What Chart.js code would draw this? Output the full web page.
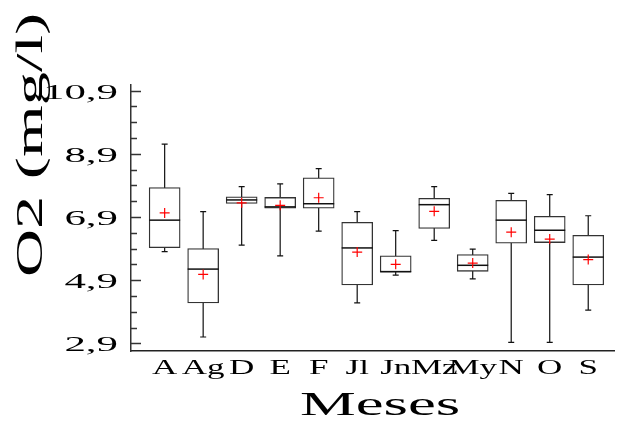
<!DOCTYPE html>
<html>
<head>
<meta charset="utf-8">
<script src="https://cdn.jsdelivr.net/npm/chart.js@4"></script>
<style>
  html, body { margin: 0; padding: 0; background: #fff; }
</style>
</head>
<body>
<canvas id="boxChart" width="621" height="421"></canvas>
<script>
// valores (O2 en mg/l por mes)
const meses   = ['A', 'Ag', 'D', 'E', 'F', 'Jl', 'Jn', 'Mz', 'My', 'N', 'O', 'S'];
const minimo  = [5.80, 3.10, 6.01, 5.67, 6.45, 4.18, 5.06, 6.16, 4.94, 2.93, 2.93, 3.95];
const q1      = [5.93, 4.18, 7.33, 7.18, 7.18, 4.75, 5.15, 6.54, 5.18, 6.07, 6.09, 4.75];
const mediana = [6.80, 5.25, 7.44, 7.22, 7.32, 5.92, 5.17, 7.29, 5.37, 6.80, 6.48, 5.63];
const q3      = [7.83, 5.90, 7.54, 7.52, 8.14, 6.73, 5.67, 7.49, 5.71, 7.43, 6.92, 6.32];
const maximo  = [9.21, 7.07, 7.86, 7.95, 8.43, 7.07, 6.47, 7.86, 5.88, 7.65, 7.61, 6.94];
const media   = [7.03, 5.08, 7.35, 7.27, 7.51, 5.79, 5.40, 7.08, 5.44, 6.42, 6.20, 5.55];
const yMarcas = [2.9, 4.9, 6.9, 8.9, 10.9];

const serif = '"Liberation Serif", "Times New Roman", serif';

// texto ensanchado como en el original
function textoAncho(ctx, txt, x, y, size, sx, align, rot) {
    ctx.save();
    ctx.font = size + 'px ' + serif;
    ctx.fillStyle = '#000';
    ctx.textAlign = align;
    ctx.textBaseline = 'alphabetic';
    ctx.translate(x, y);
    if (rot) ctx.rotate(rot);
    ctx.scale(sx, 1);
    ctx.fillText(txt, 0, 0);
    ctx.restore();
}

const cajas = {
    id: 'cajas',
    beforeDatasetDraw(chart, args) {
        if (args.index !== 1) return;
        const ctx = chart.ctx;
        const ys = chart.scales.y;
        const barras = chart.getDatasetMeta(1).data;
        ctx.save();
        ctx.strokeStyle = '#111';
        ctx.lineWidth = 1.2;
        barras.forEach((b, i) => {
            const yMin = ys.getPixelForValue(minimo[i]);
            const yMax = ys.getPixelForValue(maximo[i]);
            ctx.beginPath();
            ctx.moveTo(b.x, yMin); ctx.lineTo(b.x, yMax);
            ctx.moveTo(b.x - 3, yMin); ctx.lineTo(b.x + 3, yMin);
            ctx.moveTo(b.x - 3, yMax); ctx.lineTo(b.x + 3, yMax);
            ctx.stroke();
        });
        ctx.restore();
    },
    afterDatasetDraw(chart, args) {
        if (args.index !== 1) return;
        const ctx = chart.ctx;
        const ys = chart.scales.y;
        const barras = chart.getDatasetMeta(1).data;
        ctx.save();
        ctx.strokeStyle = '#111';
        ctx.lineWidth = 1.5;
        barras.forEach((b, i) => {
            const yMed = ys.getPixelForValue(mediana[i]);
            ctx.beginPath();
            ctx.moveTo(b.x - b.width / 2, yMed);
            ctx.lineTo(b.x + b.width / 2, yMed);
            ctx.stroke();
        });
        ctx.restore();
    },
    afterDraw(chart) {
        const ctx = chart.ctx;
        const area = chart.chartArea;
        const ys = chart.scales.y;
        const xs = chart.scales.x;

        // marcas hacia dentro en el eje y
        ctx.save();
        ctx.strokeStyle = '#333';
        ctx.lineWidth = 1.5;
        for (let k = 0; k <= 16; k++) {
            const v = 2.9 + k * 0.5;
            const py = Math.round(ys.getPixelForValue(v)) + 0.5;
            const largo = (k % 4 === 0) ? 10 : 6;
            ctx.beginPath();
            ctx.moveTo(area.left, py);
            ctx.lineTo(area.left + largo, py);
            ctx.stroke();
        }
        ctx.restore();

        yMarcas.forEach(v => {
            const py = ys.getPixelForValue(v);
            textoAncho(ctx, v.toFixed(1).replace('.', ','), 118, py + 8, 22, 1.95, 'right');
        });

        meses.forEach((m, i) => {
            textoAncho(ctx, m, xs.getPixelForValue(i), 374, 20, 1.75, 'center');
        });

        textoAncho(ctx, 'Meses', 380, 415, 33, 1.9, 'center');
        textoAncho(ctx, 'O2 (mg/l)', 42, 145, 38, 1.75, 'center', -Math.PI / 2);
    }
};

new Chart(document.getElementById('boxChart'), {
    data: {
        datasets: [
            {
                type: 'scatter',
                label: 'Media',
                data: media.map((v, i) => ({ x: i, y: v })),
                pointStyle: 'cross',
                radius: 5,
                borderColor: '#ff0000',
                backgroundColor: '#ff0000',
                borderWidth: 1.2,
                order: 1
            },
            {
                type: 'bar',
                label: 'Caja',
                data: q1.map((v, i) => ({ x: i, y: [v, q3[i]] })),
                backgroundColor: '#ffffff',
                borderColor: '#333333',
                borderWidth: 1.3,
                borderSkipped: false,
                barThickness: 31,
                order: 2
            }
        ]
    },
    options: {
        responsive: false,
        animation: false,
        devicePixelRatio: 1,
        layout: { padding: { left: 131, top: 85, right: 0, bottom: 70 } },
        plugins: {
            legend: { display: false },
            tooltip: { enabled: false }
        },
        scales: {
            x: {
                type: 'linear',
                min: -0.874,
                max: 11.69,
                offset: false,
                grid: { display: false, drawTicks: false, offset: false },
                border: { display: true, color: '#222', width: 1.5 },
                ticks: { display: false }
            },
            y: {
                min: 2.656,
                max: 11.08,
                grid: { display: false, drawTicks: false },
                border: { display: true, color: '#333', width: 1.5 },
                ticks: { display: false }
            }
        }
    },
    plugins: [cajas]
});
</script>
</body>
</html>
